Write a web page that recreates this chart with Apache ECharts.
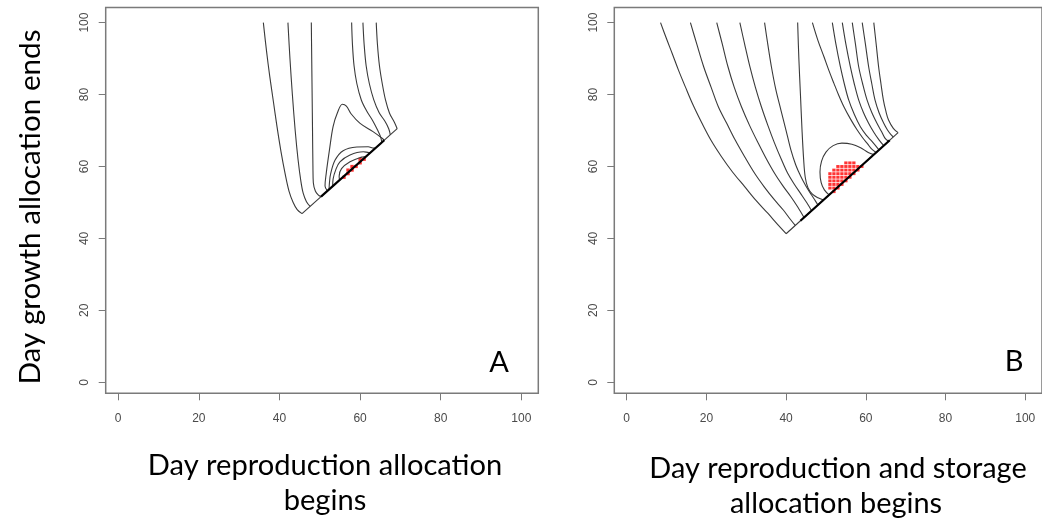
<!DOCTYPE html>
<html><head><meta charset="utf-8">
<script src="https://cdn.jsdelivr.net/npm/echarts@6/dist/echarts.min.js"></script>
<style>html,body{margin:0;padding:0;background:#fff}#c{width:1042px;height:521px}</style>
</head><body><div id="c"></div>
<script>
// ---- tick labels ----
const tickValues = [0, 20, 40, 60, 80, 100];

// ---- titles ----
const yTitle = "Day growth allocation ends";
const xTitleA = ["Day reproduction allocation", "begins"];
const xTitleB = ["Day reproduction and storage", "allocation begins"];
const panelLabels = ["A", "B"];

// ---- Panel A contour lines [x, y] ----
const A_outerLeft  = [[36.0,100],[36.8,92],[37.6,85],[38.5,78],[39.4,71],[40.4,64],[41.4,58],[42.4,53],[43.4,50],[44.4,48],[45.6,46.9]];
const A_edge       = [[45.6,46.9],[69.2,70.5]];
const A_outerRight = [[69.2,70.5],[68.5,72.3],[67.3,74.8],[66.3,78.5],[65.5,83],[64.8,88],[64.3,94],[64.0,100]];
const A_left2      = [[42.1,100],[42.6,90],[43.2,80],[43.9,70],[44.6,62],[45.3,56],[45.9,52.5],[46.7,50.2],[47.6,48.9]];
const A_mid        = [[47.9,100],[48.0,90],[48.1,80],[48.2,70],[48.3,60],[48.4,55.5],[48.9,53.2],[49.6,52.1],[50.3,51.6]];
const A_bump       = [[51.9,53.2],[51.3,54.6],[51.6,58.1],[52.4,64.6],[53.3,71.1],[54.4,75.0],[55.6,77.3],[56.6,76.8],[57.8,74.6],[60.0,72.0],[63.2,69.7],[65.3,68.0],[66.0,67.3]];
const A_right3     = [[57.9,100],[58.1,94],[58.5,88],[59.2,83],[60.3,78.5],[61.6,75.5],[63.2,72.6],[64.3,70.2],[65.0,68.5],[65.4,66.7]];
const A_right2     = [[60.7,100],[61.0,94],[61.5,88],[62.3,83],[63.4,78.5],[64.7,75],[66.2,72.5],[67.1,70.5],[67.5,68.8]];
const A_inner1     = [[52.3,53.6],[52.4,55.5],[52.7,58.0],[53.8,61.8],[55.8,64.4],[59.2,65.4],[62.0,65.5],[63.4,65.1],[64.0,65.3]];
const A_inner2     = [[53.2,54.5],[53.3,56.5],[54.0,59.2],[55.0,61.3],[57.5,63.2],[60.8,64.1],[62.2,63.9],[62.6,63.9]];
const A_inner3     = [[54.9,56.2],[54.8,57.3],[55.4,59.4],[57.5,61.3],[60.4,62.6],[61.4,62.8],[61.7,63.0]];
const A_ridge      = [[50.3,51.6],[66.0,67.3]];
const A_optimum    = [[56,57],[57,58],[57,59],[58,59],[58,60],[59,60],[60,61],[60,62],[61,62]];

// ---- Panel B contour lines [x, y] ----
const B_outerLeft  = [[8.5,100],[10.0,95.5],[11.4,91.5],[13.0,86.8],[14.7,82.2],[16.7,77],[18.9,72],[21.2,67.2],[23.8,62.7],[26.6,58.4],[29.6,54.4],[32.5,50.5],[35.4,47],[37.8,44],[40.0,41.3]];
const B_edge       = [[40.0,41.3],[68.1,69.4]];
const B_outerRight = [[68.1,69.4],[66.9,70.6],[65.7,72.9],[65.0,75.5],[64.4,78.5],[63.8,83],[63.2,87.8],[62.6,94],[62.0,100]];
const B_left2      = [[16.0,100],[17.6,94],[19.3,87.8],[21.2,82],[23.0,76.6],[25.1,72],[27.2,67.4],[29.6,62.7],[32.1,58.1],[34.6,54.2],[37.1,50.7],[39.3,47.9],[41.0,45.4],[42.3,43.6]];
const B_left3      = [[22.6,100],[24.0,94],[25.4,87.8],[27.0,82],[28.8,76.6],[30.8,71.5],[33.0,66.5],[35.0,62.2],[37.1,58.1],[39.2,54.6],[41.2,51.6],[43.0,48.6],[44.5,45.8]];
const B_left4      = [[28.4,100],[29.6,94],[30.9,87.8],[32.3,82],[33.8,76.6],[35.4,71.5],[37.1,66.5],[38.8,62],[40.4,58.1],[42.1,55],[43.7,52.4],[45.2,49.9],[46.4,47.7]];
const B_left5      = [[34.6,100],[35.4,94],[36.3,87.8],[37.4,81.5],[38.7,75.7],[40.0,70],[41.2,64.6],[42.4,60.5],[43.7,57.2],[45.0,54.5],[46.3,52.2],[47.3,50.5],[48.0,49.3]];
const B_mid        = [[42.9,100],[43.2,90],[43.6,80],[44.0,70],[44.4,62],[44.8,57],[45.5,54],[46.6,52.3],[48.0,51.3],[49.4,50.7]];
const B_bump       = [[50.8,52.1],[49.6,53.5],[48.8,55.5],[48.5,58.5],[48.9,61.5],[50.0,64.0],[51.8,65.8],[54.0,66.5],[56.5,66.2],[58.7,65.2],[60.6,63.9],[62.0,63.3]];
const B_right6     = [[46.6,100],[48.0,95],[49.5,90.5],[50.8,86.5],[52.0,83.1],[53.2,79.8],[54.5,76.6],[56.1,73.3],[57.8,70.2],[59.2,68.0],[60.5,66.2],[61.5,64.8],[62.6,63.9]];
const B_right5     = [[51.6,100],[52.5,94],[53.6,87.8],[54.6,83],[55.7,78.5],[57.1,74.5],[58.6,71.1],[60.1,68.7],[61.6,66.9],[63.3,64.6]];
const B_right4     = [[54.1,100],[55.0,94],[56.1,87.8],[57.1,83],[58.2,78.5],[59.4,75],[60.7,72.0],[62.0,69.5],[63.3,67.4],[64.5,65.8]];
const B_right3     = [[56.6,100],[57.4,94],[58.2,87.8],[59.2,83],[60.3,78.5],[61.5,75],[62.8,72.0],[63.9,69.8],[64.8,67.9],[65.7,67.0]];
const B_right2     = [[59.1,100],[59.9,94],[60.7,87.8],[61.5,83],[62.3,78.5],[63.3,75],[64.5,72.0],[65.4,70.2],[66.2,69],[66.9,68.2]];
const B_ridge      = [[43.6,44.9],[66.0,67.3]];
const B_optimum    = [[55,61],[56,61],[57,61],
  [53,60],[54,60],[55,60],[56,60],[57,60],[58,60],[59,60],
  [52,59],[53,59],[54,59],[55,59],[56,59],[57,59],[58,59],
  [51,58],[52,58],[53,58],[54,58],[55,58],[56,58],[57,58],
  [51,57],[52,57],[53,57],[54,57],[55,57],[56,57],
  [51,56],[52,56],[53,56],[54,56],[55,56],
  [51,55],[52,55],[53,55],[54,55],
  [51,54],[52,54],[53,54],
  [52,53]];

const linesA = [A_outerLeft, A_edge, A_outerRight, A_left2, A_mid, A_bump, A_right3, A_right2, A_inner1, A_inner2, A_inner3];
const linesB = [B_outerLeft, B_edge, B_outerRight, B_left2, B_left3, B_left4, B_left5, B_mid, B_bump, B_right6, B_right5, B_right4, B_right3, B_right2];

// ---- layout ----
const BOX = '#7a7a7a';
const TXT = "Lato, 'Open Sans', sans-serif";
const grids = [
  {left: 105.7, top: 7.5, width: 432.6, height: 385.8},
  {left: 614.3, top: 7.5, width: 432.6, height: 385.8}
];

function fitSize(text, width) {
  const ctx = document.createElement('canvas').getContext('2d');
  ctx.font = '100px Lato';
  return 100 * width / ctx.measureText(text).width;
}

const chart = echarts.init(document.getElementById('c'), null, {renderer: 'canvas'});

function xAxisFor(i) {
  return {type: 'value', gridIndex: i, min: -3.1, max: 104.2, position: 'bottom',
    axisLine: {show: false, onZero: false}, splitLine: {show: false},
    axisTick: {show: true, inside: false, customValues: tickValues, length: 7, lineStyle: {color: BOX, width: 1}},
    axisLabel: {customValues: tickValues, margin: 19, fontSize: 12, color: '#4a4a4a', fontFamily: 'Liberation Sans'}};
}
function yAxisFor(i) {
  return {type: 'value', gridIndex: i, min: -3.06, max: 104.2, position: 'left',
    axisLine: {show: false, onZero: false}, splitLine: {show: false},
    axisTick: {show: true, inside: false, customValues: tickValues, length: 7, lineStyle: {color: BOX, width: 1}},
    axisLabel: {customValues: tickValues, margin: 15, fontSize: 12, rotate: 90, color: '#4a4a4a', fontFamily: 'Liberation Sans', align: 'center', verticalAlign: 'bottom'}};
}

const series = [];
function addPanel(lines, ridge, optimum, idx, cellSize) {
  series.push({type: 'scatter', xAxisIndex: idx, yAxisIndex: idx, data: optimum,
    symbol: 'rect', symbolSize: cellSize, itemStyle: {color: '#ff0000'}, silent: true, z: 2});
  lines.forEach(l => series.push({type: 'line', xAxisIndex: idx, yAxisIndex: idx, data: l,
    showSymbol: false, smooth: 0.35, lineStyle: {color: '#3a3a3a', width: 1.1}, silent: true, z: 3}));
  series.push({type: 'line', xAxisIndex: idx, yAxisIndex: idx, data: ridge,
    showSymbol: false, lineStyle: {color: '#000', width: 2.2}, silent: true, z: 4});
}
addPanel(linesA, A_ridge, A_optimum, 0, [3.4, 3.2]);
addPanel(linesB, B_ridge, B_optimum, 1, [3.3, 2.9]);

const fsY = fitSize(yTitle, 355);
const fsA = fitSize(xTitleA[0], 354);
const fsB = fitSize(xTitleB[0], 377);
const graphics = [
  {type: 'text', x: 30, y: 207, rotation: Math.PI / 2,
    style: {text: yTitle, font: fsY.toFixed(1) + 'px ' + TXT, fill: '#000', textAlign: 'center', textVerticalAlign: 'middle'}},
  {type: 'text', x: 325, y: 466, style: {text: xTitleA[0], font: fsA.toFixed(1) + 'px ' + TXT, fill: '#000', textAlign: 'center', textVerticalAlign: 'middle'}},
  {type: 'text', x: 325, y: 501, style: {text: xTitleA[1], font: fsA.toFixed(1) + 'px ' + TXT, fill: '#000', textAlign: 'center', textVerticalAlign: 'middle'}},
  {type: 'text', x: 838, y: 469, style: {text: xTitleB[0], font: fsB.toFixed(1) + 'px ' + TXT, fill: '#000', textAlign: 'center', textVerticalAlign: 'middle'}},
  {type: 'text', x: 836, y: 504, style: {text: xTitleB[1], font: fsB.toFixed(1) + 'px ' + TXT, fill: '#000', textAlign: 'center', textVerticalAlign: 'middle'}},
  {type: 'text', x: 499, y: 363, style: {text: panelLabels[0], font: '29px ' + TXT, fill: '#000', textAlign: 'center', textVerticalAlign: 'middle'}},
  {type: 'text', x: 1014, y: 362, style: {text: panelLabels[1], font: '29px ' + TXT, fill: '#000', textAlign: 'center', textVerticalAlign: 'middle'}}
];

chart.setOption({
  animation: false,
  backgroundColor: '#fff',
  grid: grids.map(g => Object.assign({show: true, borderColor: BOX, borderWidth: 1.5, backgroundColor: 'transparent', containLabel: false}, g)),
  xAxis: [xAxisFor(0), xAxisFor(1)],
  yAxis: [yAxisFor(0), yAxisFor(1)],
  series: series,
  graphic: graphics
});
</script>
</body></html>
